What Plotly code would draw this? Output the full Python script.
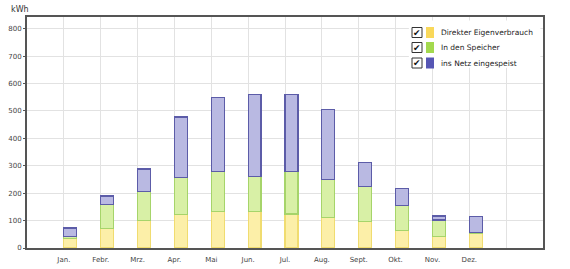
import plotly.graph_objects as go

months = ["Jan.", "Febr.", "Mrz.", "Apr.", "Mai", "Jun.", "Jul.", "Aug.", "Sept.", "Okt.", "Nov.", "Dez."]
eigenverbrauch = [35, 72, 100, 123, 133, 133, 124, 112, 96, 63, 41, 54]
speicher = [8, 88, 106, 134, 146, 128, 155, 139, 128, 91, 61, 3]
netz = [30, 30, 82, 221, 271, 299, 280, 254, 88, 64, 15, 58]
series_names = ["Direkter Eigenverbrauch", "In den Speicher", "ins Netz eingespeist"]

fills = ["#fcefa8", "#d8f0a6", "#b9b9e2"]
lines = ["#f0dc70", "#a6d46a", "#5c5ca8"]
swatches = ["#f9d85a", "#a3d94e", "#5656b4"]

BAR_W = 0.35
xpos = [i + BAR_W / 2 for i in range(len(months))]

fig = go.Figure()
for name, vals, fc, lc in zip(series_names, [eigenverbrauch, speicher, netz], fills, lines):
    fig.add_trace(go.Bar(
        x=xpos, y=vals, width=BAR_W, name=name,
        marker=dict(color=fc, line=dict(color=lc, width=1.2)),
        showlegend=False,
    ))

fig.update_layout(
    width=570, height=269,
    margin=dict(l=27, r=27, t=17, b=21),
    barmode="stack",
    paper_bgcolor="white", plot_bgcolor="white",
    font=dict(family="DejaVu Sans", size=7, color="#333"),
    xaxis=dict(
        range=[-1, 13],
        tickvals=list(range(13)),
        ticktext=months + [""],
        showgrid=True, gridcolor="#e2e2e2", gridwidth=1,
        showline=True, linecolor="#555", linewidth=2, mirror=True,
        ticks="", zeroline=False, ticklabelstandoff=4, automargin=False,
        tickfont=dict(size=7, color="#444"),
    ),
    yaxis=dict(
        range=[0, 843],
        tickvals=list(range(0, 900, 100)),
        showgrid=True, gridcolor="#e2e2e2", gridwidth=1,
        showline=True, linecolor="#555", linewidth=2, mirror=True,
        ticks="outside", ticklen=2, tickcolor="#555",
        zeroline=False, automargin=False,
        tickfont=dict(size=7, color="#444"),
    ),
)

fig.add_annotation(xref="paper", yref="paper", x=-0.035, y=1.005, text="kWh",
                   showarrow=False, xanchor="left", yanchor="bottom",
                   font=dict(size=8, color="#333"))

# legend box (custom)
shapes = [dict(type="rect", xref="paper", yref="paper", x0=0.74, x1=0.995, y0=0.78, y1=0.985,
               fillcolor="white", line=dict(width=0), layer="above")]
x_cb0, x_cb1 = 412, 422
x_sw0, x_sw1 = 426, 434
x_txt = 439
row_y = [32.5, 47.5, 63]
for name, sc, yy in zip(series_names, swatches, row_y):
    shapes.append(dict(type="rect", xref="paper", yref="paper",
                       x0=(x_cb0 - 27) / 516, x1=(x_cb1 - 27) / 516,
                       y0=(248 - (yy + 5)) / 231, y1=(248 - (yy - 5)) / 231,
                       fillcolor="white", line=dict(color="#333", width=1), layer="above"))
    shapes.append(dict(type="rect", xref="paper", yref="paper",
                       x0=(x_sw0 - 27) / 516, x1=(x_sw1 - 27) / 516,
                       y0=(248 - (yy + 5.5)) / 231, y1=(248 - (yy - 5.5)) / 231,
                       fillcolor=sc, line=dict(width=0), layer="above"))
    fig.add_annotation(xref="paper", yref="paper", x=((x_cb0 + x_cb1) / 2 - 27) / 516,
                       y=(248 - yy) / 231, text="✔", showarrow=False,
                       font=dict(size=9, color="#111"), xanchor="center", yanchor="middle")
    fig.add_annotation(xref="paper", yref="paper", x=(x_txt - 27) / 516,
                       y=(248 - yy) / 231, text=name, showarrow=False,
                       font=dict(size=7.5, color="#222"), xanchor="left", yanchor="middle")
fig.update_layout(shapes=shapes)

fig.write_html("out.html")
